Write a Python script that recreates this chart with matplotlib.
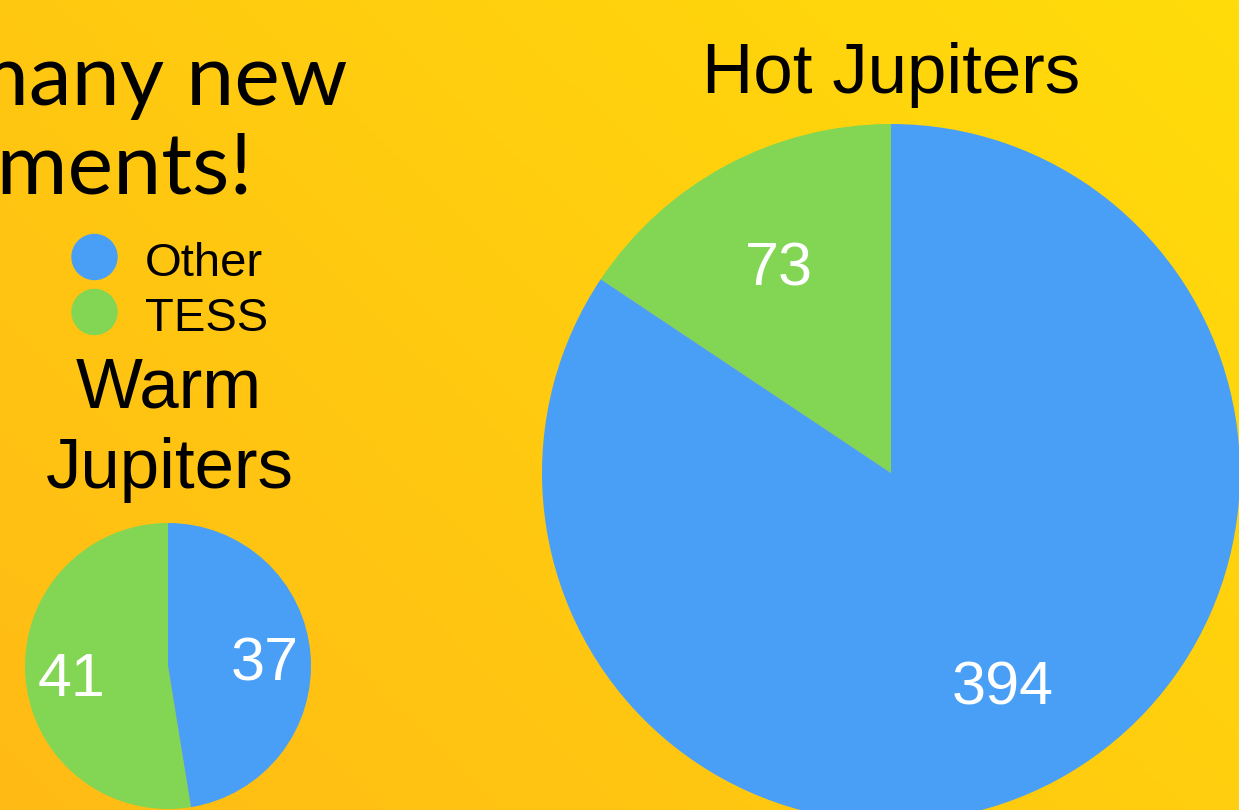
import matplotlib.pyplot as plt
import numpy as np
from matplotlib.colors import LinearSegmentedColormap
from matplotlib.patches import Circle

# planet counts by discovery source
sources = ["TESS", "Other"]
hot_counts = [73, 394]
warm_counts = [41, 37]

colors = {"TESS": "#83d654", "Other": "#499ff6"}
W, H = 1239, 810

fig = plt.figure(figsize=(W / 100, H / 100), dpi=100)
ax = fig.add_axes([0, 0, 1, 1])

# diagonal orange -> yellow background
yy, xx = np.mgrid[0:1:200j, 0:1:300j]
grad = (xx * 0.6 + yy * 0.4)
bg = LinearSegmentedColormap.from_list("bg", ["#ffbb15", "#ffdc0a"])
ax.imshow(grad, cmap=bg, extent=(0, W, 0, H), origin="lower",
          aspect="auto", zorder=0)


def count_label(total):
    return lambda p: f"{round(p * total / 100)}"


label_style = dict(color="white", fontsize=44, family="Liberation Sans",
                   va="center_baseline")
pie_colors = [colors[s] for s in sources]

ax.pie(hot_counts, colors=pie_colors, startangle=90, counterclock=True,
       center=(891, H - 473), radius=349, frame=True,
       autopct=count_label(sum(hot_counts)), pctdistance=0.68,
       textprops=label_style, wedgeprops=dict(linewidth=0, zorder=2))
ax.pie(warm_counts, colors=pie_colors, startangle=90, counterclock=True,
       center=(168, H - 666), radius=143, frame=True,
       autopct=count_label(sum(warm_counts)), pctdistance=0.68,
       textprops=label_style, wedgeprops=dict(linewidth=0, zorder=2))

ax.set_xlim(0, W)
ax.set_ylim(0, H)
ax.set_aspect("auto")
ax.axis("off")

title_font = dict(family="Liberation Sans", color="black", fontsize=51)
ax.text(891, H - 93, "Hot Jupiters", ha="center", va="baseline", **title_font)
ax.text(169, H - 408, "Warm", ha="center", va="baseline", **title_font)
ax.text(170, H - 488, "Jupiters", ha="center", va="baseline", **title_font)

# legend
for y, name in [(257, "Other"), (312, "TESS")]:
    ax.add_patch(Circle((94.5, H - y), 22.5, color=colors[name], zorder=3))
    ax.text(145, H - y - 19, name, ha="left", va="baseline",
            family="Liberation Sans", fontsize=34, color="black")

# headline, cut by the left edge
head_font = dict(family="Lato", fontsize=62, color="black")
ax.text(348, H - 105, "many new", ha="right", va="baseline", **head_font)
ax.text(253, H - 193, "measurements!", ha="right", va="baseline", **head_font)

fig.savefig("out.png", dpi=100)
